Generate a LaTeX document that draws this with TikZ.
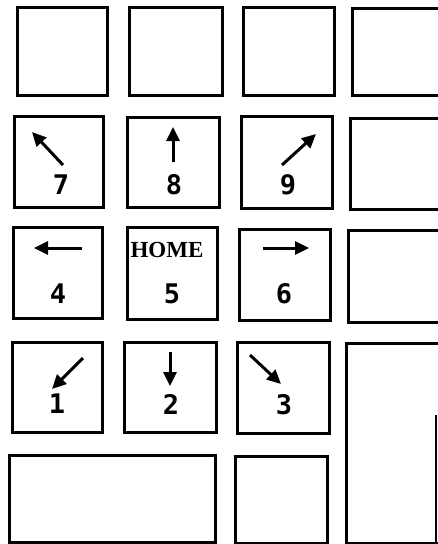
\documentclass[tikz,border=0pt]{standalone}
\usepackage{fontspec}
\setmainfont{Liberation Serif}
\newfontfamily\digitfont{DejaVu Sans Mono}
\usetikzlibrary{arrows.meta}
\tikzset{
  keystyle/.style={draw=black, line width=3pt, inner sep=0pt, outer sep=0pt, fill=white},
  digit/.style={font=\digitfont\bfseries\fontsize{27}{27}\selectfont, inner sep=0pt},
  homelabel/.style={font=\bfseries\fontsize{23}{23}\selectfont, inner sep=0pt},
  arr/.style={line width=3pt, -{Triangle[length=14pt,width=13pt]}},
}
\newcommand\keybox[5]{%
  \node[keystyle, minimum width={(#4-#2)*1pt}, minimum height={(#5-#3)*1pt}]
    (#1) at ({(#2+#4)/2},{(#3+#5)/2}) {};}
\begin{document}
\begin{tikzpicture}[x=1pt,y=-1pt]
\useasboundingbox (0,0) rectangle (438,544);
\begin{scope}
\clip (0,0) rectangle (438,544);
% row 1
\keybox{ka}{17}{7}{107}{95}
\keybox{kb}{129}{7}{222}{95}
\keybox{kc}{243}{7}{334}{95}
\keybox{kd}{352}{8}{460}{95}
% row 2
\keybox{k7}{14}{116}{103}{207}
\keybox{k8}{127}{117}{219}{207}
\keybox{k9}{241}{116}{332}{208}
\keybox{ke}{350}{118}{460}{209}
% row 3
\keybox{k4}{13}{227}{102}{318}
\keybox{k5}{127}{227}{217}{319}
\keybox{k6}{239}{229}{330}{320}
\keybox{kf}{348}{230}{460}{322}
% row 4
\keybox{k1}{12}{342}{102}{432}
\keybox{k2}{124}{342}{216}{432}
\keybox{k3}{237}{342}{329}{433}
\keybox{kg}{346}{343}{460}{543}
% row 5
\keybox{k0}{9}{455}{215}{542}
\keybox{kh}{235}{456}{327}{543}
\coordinate (edgetop) at (436,415);
\coordinate (edgebot) at (436,544);
\draw[line width=1.2pt] (edgetop) -- (edgebot);
\end{scope}
% labels
\node[digit] (l7) at (61,185) {7};
\node[digit] (l8) at (174,185) {8};
\node[digit] (l9) at (288,185) {9};
\node[digit] (l4) at (58,294) {4};
\node[digit] (l5) at (172,294) {5};
\node[digit] (l6) at (284,294) {6};
\node[digit] (l1) at (57,404) {1};
\node[digit] (l2) at (171,404) {2};
\node[digit] (l3) at (284,405) {3};
\node[homelabel] (lh) at (167,250) {HOME};
% arrows
\draw[arr] (63,165) -- (32,132);
\draw[arr] (173,162) -- (173,127);
\draw[arr] (282,165) -- (316,134);
\draw[arr] (82,248) -- (34,248);
\draw[arr] (263,248) -- (309,248);
\draw[arr] (83,358) -- (52,389);
\draw[arr] (170,352) -- (170,386);
\draw[arr] (250,355) -- (281,384);
\end{tikzpicture}
\end{document}
